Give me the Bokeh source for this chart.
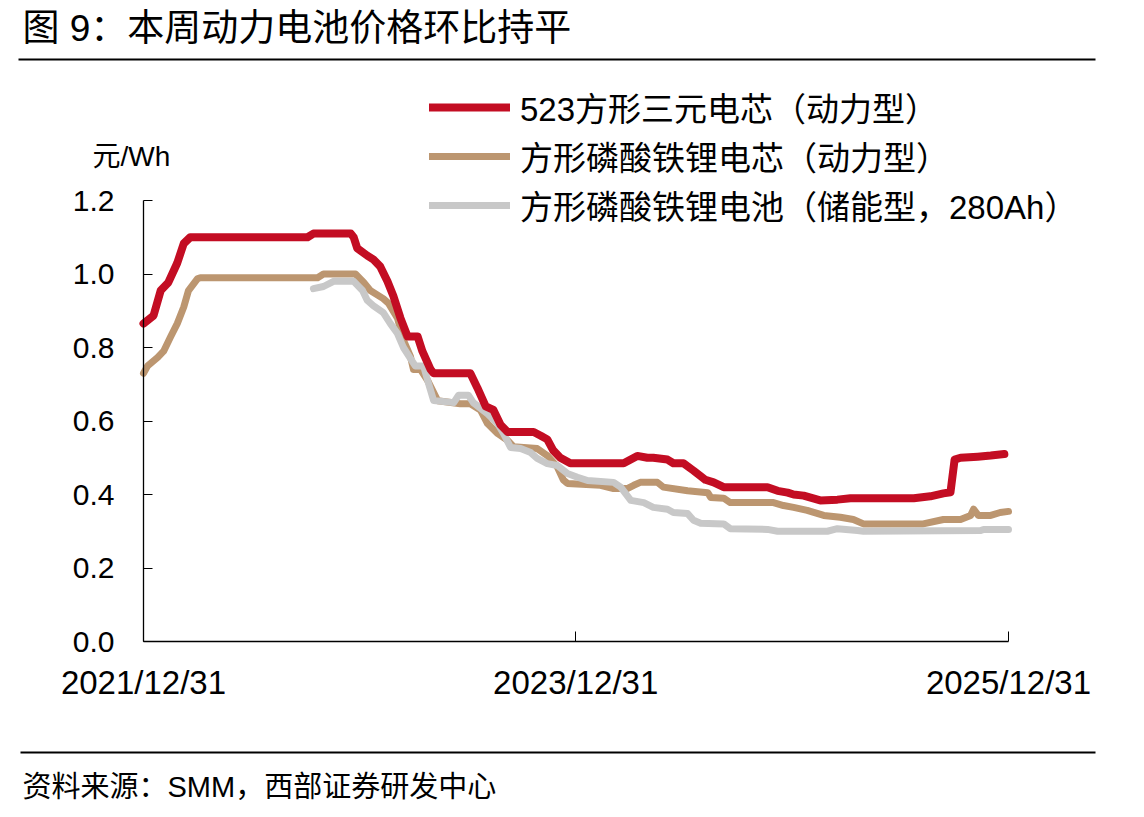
from datetime import datetime
from bokeh.plotting import figure
from bokeh.models import (Range1d, FixedTicker, DatetimeTickFormatter, NumeralTickFormatter,
                          Label, BoxAnnotation, Legend, LegendItem, ColumnDataSource)
from bokeh.embed import file_html
from bokeh.resources import INLINE

# ---------------- data ----------------
title_text = "图 9：本周动力电池价格环比持平"
source_text = "资料来源：SMM，西部证券研发中心"
unit_text = "元/Wh"

series_names = ["523方形三元电芯（动力型）",
                "方形磷酸铁锂电芯（动力型）",
                "方形磷酸铁锂电池（储能型，280Ah）"]

x_tick_labels = ["2021-12-31", "2023-12-31", "2025-12-31"]
y_ticks = [0.0, 0.2, 0.4, 0.6, 0.8, 1.0, 1.2]

ncm_dates = ["2021-12-31", "2022-01-17", "2022-01-29", "2022-02-11", "2022-02-26",
             "2022-03-09", "2022-03-20", "2022-10-04", "2022-10-14", "2022-12-16",
             "2022-12-21", "2022-12-27", "2023-01-13", "2023-01-23", "2023-02-04",
             "2023-02-16", "2023-02-26", "2023-03-10", "2023-03-22", "2023-04-08",
             "2023-04-16", "2023-04-30", "2023-05-05", "2023-07-06", "2023-07-18",
             "2023-08-01", "2023-08-14", "2023-08-26", "2023-09-07", "2023-10-21",
             "2023-11-02", "2023-11-13", "2023-11-23", "2023-12-05", "2023-12-22",
             "2024-03-21", "2024-04-13", "2024-04-30", "2024-05-10", "2024-06-03",
             "2024-06-13", "2024-06-30", "2024-07-17", "2024-07-29", "2024-08-06",
             "2024-08-20", "2024-09-06", "2024-11-19", "2024-12-06", "2024-12-23",
             "2025-01-02", "2025-01-19", "2025-02-16", "2025-03-17", "2025-04-08",
             "2025-07-24", "2025-08-21", "2025-09-12", "2025-09-24", "2025-10-01",
             "2025-10-11", "2025-11-09", "2025-12-01", "2025-12-24"]
ncm_vals = [0.865, 0.887, 0.955, 0.977, 1.03,
            1.083, 1.10, 1.10, 1.11, 1.11,
            1.10, 1.07, 1.05, 1.04, 1.02,
            0.98, 0.94, 0.88, 0.83, 0.83,
            0.79, 0.74, 0.73, 0.73, 0.69,
            0.64, 0.63, 0.59, 0.57, 0.57,
            0.56, 0.55, 0.52, 0.50, 0.485,
            0.485, 0.505, 0.50, 0.50, 0.495,
            0.485, 0.485, 0.465, 0.45, 0.44,
            0.433, 0.42, 0.42, 0.41, 0.405,
            0.40, 0.397, 0.384, 0.386, 0.39,
            0.39, 0.395, 0.403, 0.406, 0.495,
            0.50, 0.503, 0.506, 0.51]

lfp_dates = ["2021-12-31", "2022-01-07", "2022-01-24", "2022-02-03", "2022-02-15",
             "2022-02-26", "2022-03-09", "2022-03-17", "2022-04-01", "2022-04-06",
             "2022-10-21", "2022-10-31", "2022-12-24", "2023-01-07", "2023-01-18",
             "2023-02-09", "2023-02-18", "2023-03-05", "2023-03-15", "2023-03-27",
             "2023-04-01", "2023-04-13", "2023-04-25", "2023-05-12", "2023-06-19",
             "2023-07-06", "2023-07-23", "2023-08-04", "2023-08-21", "2023-09-07",
             "2023-09-17", "2023-10-27", "2023-11-13", "2023-11-30", "2023-12-10",
             "2023-12-17", "2024-02-11", "2024-03-04", "2024-03-27", "2024-04-07",
             "2024-04-18", "2024-05-17", "2024-05-27", "2024-07-07", "2024-08-10",
             "2024-08-15", "2024-09-06", "2024-09-17", "2024-11-29", "2024-12-16",
             "2025-01-02", "2025-01-25", "2025-02-22", "2025-03-22", "2025-04-13",
             "2025-04-30", "2025-08-09", "2025-09-12", "2025-10-11", "2025-10-28",
             "2025-11-02", "2025-11-10", "2025-12-01", "2025-12-17", "2025-12-31"]
lfp_vals = [0.73, 0.75, 0.773, 0.79, 0.83,
            0.865, 0.91, 0.955, 0.987, 0.99,
            0.99, 1.00, 1.00, 0.977, 0.955,
            0.933, 0.92, 0.88, 0.82, 0.775,
            0.74, 0.74, 0.71, 0.655, 0.647,
            0.647, 0.63, 0.593, 0.566, 0.547,
            0.53, 0.525, 0.506, 0.475, 0.44,
            0.43, 0.425, 0.416, 0.416, 0.425,
            0.433, 0.433, 0.42, 0.41, 0.405,
            0.392, 0.39, 0.378, 0.378, 0.37,
            0.365, 0.357, 0.343, 0.338, 0.332,
            0.32, 0.32, 0.332, 0.332, 0.343,
            0.36, 0.343, 0.343, 0.351, 0.354]

ess_dates = ["2022-10-14", "2022-10-31", "2022-11-17", "2022-12-21", "2023-01-05",
             "2023-01-13", "2023-01-23", "2023-02-09", "2023-02-21", "2023-03-05",
             "2023-03-15", "2023-03-27", "2023-04-04", "2023-04-18", "2023-04-25",
             "2023-05-05", "2023-06-08", "2023-06-16", "2023-07-03", "2023-07-11",
             "2023-08-04", "2023-08-21", "2023-08-31", "2023-09-12", "2023-09-29",
             "2023-10-16", "2023-10-27", "2023-11-13", "2023-11-30", "2023-12-17",
             "2024-01-03", "2024-01-20", "2024-03-04", "2024-03-16", "2024-04-02",
             "2024-04-24", "2024-05-10", "2024-06-03", "2024-06-13", "2024-07-07",
             "2024-07-17", "2024-07-29", "2024-09-06", "2024-09-17", "2024-11-19",
             "2024-12-06", "2025-02-28", "2025-03-17", "2025-04-20", "2025-04-30",
             "2025-11-14", "2025-11-19", "2025-12-31"]
ess_vals = [0.96, 0.966, 0.98, 0.98, 0.955,
            0.928, 0.914, 0.895, 0.865, 0.838,
            0.80, 0.77, 0.75, 0.75, 0.71,
            0.656, 0.65, 0.67, 0.67, 0.65,
            0.62, 0.593, 0.566, 0.528, 0.525,
            0.514, 0.498, 0.484, 0.479, 0.457,
            0.447, 0.438, 0.433, 0.42, 0.384,
            0.378, 0.365, 0.36, 0.351, 0.348,
            0.33, 0.322, 0.32, 0.307, 0.305,
            0.30, 0.30, 0.307, 0.302, 0.30,
            0.302, 0.305, 0.305]

colors = ["#C30D23", "#BC9670", "#C8C8C8"]

# ---------------- helpers ----------------
def to_dt(s):
    return datetime.strptime(s, "%Y-%m-%d")

def to_ms(s):
    return (to_dt(s) - datetime(1970, 1, 1)).total_seconds() * 1000.0

LATIN = "Liberation Sans, Noto Sans CJK SC"

# ---------------- geometry ----------------
W, H = 1144, 817
AX_L, AX_R, AX_T, AX_B = 143, 1008, 200, 641   # plotting area in canvas px
t0, t1 = to_ms(x_tick_labels[0]), to_ms(x_tick_labels[-1])
ms_per_px = (t1 - t0) / (AX_R - AX_L)
y0, y1 = y_ticks[0], y_ticks[-1]
u_per_px = (y1 - y0) / (AX_B - AX_T)

x_range = Range1d(t0 - AX_L * ms_per_px, t1 + (W - AX_R) * ms_per_px)
y_range = Range1d(y0 - (H - AX_B) * u_per_px, y1 + AX_T * u_per_px)

p = figure(width=W, height=H, x_axis_type="datetime",
           x_range=x_range, y_range=y_range,
           output_backend="svg", toolbar_location=None, title_location=None,
           min_border_left=0, min_border_right=0, min_border_top=0, min_border_bottom=0)
p.outline_line_color = None
p.grid.visible = False
p.background_fill_color = "white"
p.border_fill_color = "white"

# y axis
ya = p.yaxis[0]
ya.fixed_location = t0
ya.bounds = (y0, y1)
ya.ticker = FixedTicker(ticks=y_ticks)
ya.formatter = NumeralTickFormatter(format="0.0")
ya.major_tick_in = 9
ya.major_tick_out = 0
ya.minor_tick_line_color = None
ya.axis_line_color = "black"
ya.axis_line_width = 1.3
ya.major_tick_line_color = "black"
ya.major_label_text_font = LATIN
ya.major_label_text_font_size = "30px"
ya.major_label_text_color = "black"
ya.major_label_standoff = 29

# x axis
xa = p.xaxis[0]
xa.fixed_location = y0
xa.bounds = (t0, t1)
xa.ticker = FixedTicker(ticks=[to_ms(s) for s in x_tick_labels])
fmt = "%Y/%m/%d"
xa.formatter = DatetimeTickFormatter(microseconds=fmt, milliseconds=fmt, seconds=fmt,
                                     minsec=fmt, minutes=fmt, hourmin=fmt, hours=fmt,
                                     days=fmt, months=fmt, years=fmt)
xa.major_tick_in = 10
xa.major_tick_out = 0
xa.minor_tick_line_color = None
xa.axis_line_color = "black"
xa.axis_line_width = 1.3
xa.major_tick_line_color = "black"
xa.major_label_text_font = LATIN
xa.major_label_text_font_size = "33px"
xa.major_label_text_color = "black"
xa.major_label_standoff = 22

# lines (brown, gray, then red on top)
src_ncm = ColumnDataSource(dict(x=[to_dt(d) for d in ncm_dates], y=ncm_vals))
src_lfp = ColumnDataSource(dict(x=[to_dt(d) for d in lfp_dates], y=lfp_vals))
src_ess = ColumnDataSource(dict(x=[to_dt(d) for d in ess_dates], y=ess_vals))

r_lfp = p.line("x", "y", source=src_lfp, line_color=colors[1], line_width=7,
               line_join="round", line_cap="round")
r_ess = p.line("x", "y", source=src_ess, line_color=colors[2], line_width=7,
               line_join="round", line_cap="round")
r_ncm = p.line("x", "y", source=src_ncm, line_color=colors[0], line_width=8,
               line_join="round", line_cap="round")

legend = Legend(items=[LegendItem(label=series_names[0], renderers=[r_ncm]),
                       LegendItem(label=series_names[1], renderers=[r_lfp]),
                       LegendItem(label=series_names[2], renderers=[r_ess])],
                location=(429, H - 229),
                padding=0, margin=0, spacing=1,
                glyph_width=81, glyph_height=40, label_height=40,
                label_standoff=10,
                label_text_font=LATIN, label_text_font_size="33px",
                label_text_color="black",
                border_line_color=None, background_fill_alpha=0)
p.add_layout(legend)

# texts (screen units: from the canvas bottom-left, since the frame fills the canvas)
p.add_layout(Label(x=22, y=H - 28, x_units="screen", y_units="screen",
                   text=title_text, text_font=LATIN, text_font_size="37px",
                   text_baseline="middle", text_align="left", text_color="black"))
p.add_layout(Label(x=92, y=H - 156, x_units="screen", y_units="screen",
                   text=unit_text, text_font=LATIN, text_font_size="28px",
                   text_baseline="middle", text_align="left", text_color="black"))
p.add_layout(Label(x=22, y=H - 786, x_units="screen", y_units="screen",
                   text=source_text, text_font=LATIN, text_font_size="29px",
                   text_baseline="middle", text_align="left", text_color="black"))

# horizontal rules
p.add_layout(BoxAnnotation(left=18, right=1095, top=H - 58, bottom=H - 60,
                           left_units="screen", right_units="screen",
                           top_units="screen", bottom_units="screen",
                           fill_color="black", fill_alpha=1, line_color=None))
p.add_layout(BoxAnnotation(left=20, right=1095, top=H - 751, bottom=H - 753,
                           left_units="screen", right_units="screen",
                           top_units="screen", bottom_units="screen",
                           fill_color="black", fill_alpha=1, line_color=None))

open("out.html", "w").write(file_html(p, INLINE))
